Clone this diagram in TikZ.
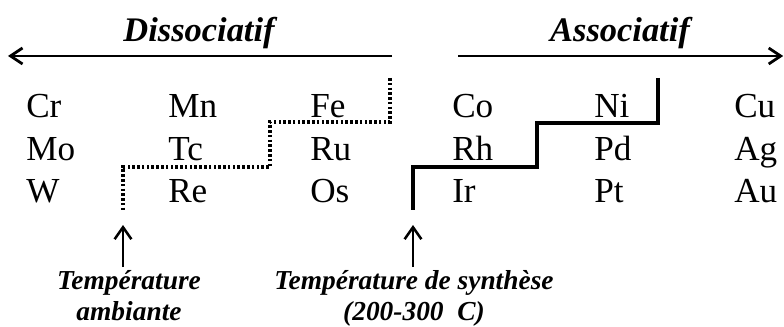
\documentclass[tikz,border=0pt]{standalone}
\usepackage{fontspec}
\setmainfont{Liberation Serif}
\usetikzlibrary{arrows.meta}

\begin{document}
\begin{tikzpicture}[
    % element symbols of the table
    elem/.style={anchor=base west, inner sep=0pt, font=\fontsize{25}{29}\selectfont},
    % titles above the long arrows
    title/.style={anchor=base, inner sep=0pt, font=\fontsize{24.5}{29}\selectfont\bfseries\itshape},
    % temperature labels under the table
    templabel/.style={anchor=north, align=center, inner sep=0pt, font=\fontsize{19.5}{22}\selectfont\bfseries\itshape},
    % arrows and steps
    bigarrow/.style={line width=2pt, -{Straight Barb[length=0.3cm,width=0.4cm,line width=2pt]}},
    smallarrow/.style={line width=1.8pt, -{Straight Barb[length=0.3cm,width=0.42cm,line width=1.8pt]}},
    roomstep/.style={line width=2.2pt, dash pattern=on 1.8pt off 1.6pt},
    synthstep/.style={line width=2.8pt}
]
\useasboundingbox (0,0) rectangle (19.6,-8.175);

% Define the ends of the long arrows
\coordinate (DissStart) at (9.8,-1.4);
\coordinate (DissEnd) at (0.2,-1.4);
\coordinate (AssoStart) at (11.45,-1.4);
\coordinate (AssoEnd) at (19.58,-1.4);

% Draw the long arrows with their titles
\draw[bigarrow] (DissStart) -- (DissEnd);
\draw[bigarrow] (AssoStart) -- (AssoEnd);
\node[title] (diss) at (4.975,-1.05) {Dissociatif};
\node[title] (asso) at (15.5,-1.05) {Associatif};

% The elements, row by row
\node[elem] (Cr) at (0.65,-2.95) {Cr};
\node[elem] (Mn) at (4.2,-2.95) {Mn};
\node[elem] (Fe) at (7.75,-2.95) {Fe};
\node[elem] (Co) at (11.3,-2.95) {Co};
\node[elem] (Ni) at (14.85,-2.95) {Ni};
\node[elem] (Cu) at (18.35,-2.95) {Cu};

\node[elem] (Mo) at (0.65,-4.025) {Mo};
\node[elem] (Tc) at (4.2,-4.025) {Tc};
\node[elem] (Ru) at (7.75,-4.025) {Ru};
\node[elem] (Rh) at (11.3,-4.025) {Rh};
\node[elem] (Pd) at (14.85,-4.025) {Pd};
\node[elem] (Ag) at (18.35,-4.025) {Ag};

\node[elem] (W) at (0.65,-5.075) {W};
\node[elem] (Re) at (4.2,-5.075) {Re};
\node[elem] (Os) at (7.75,-5.075) {Os};
\node[elem] (Ir) at (11.3,-5.075) {Ir};
\node[elem] (Pt) at (14.85,-5.075) {Pt};
\node[elem] (Au) at (18.35,-5.075) {Au};

% Dotted step (room temperature)
\coordinate (R1) at (9.75,-1.95);
\coordinate (R2) at (9.75,-3.05);
\coordinate (R3) at (6.75,-3.05);
\coordinate (R4) at (6.75,-4.175);
\coordinate (R5) at (3.075,-4.175);
\coordinate (R6) at (3.075,-5.25);
\draw[roomstep] (R1) -- (R2) -- (R3) -- (R4) -- (R5) -- (R6);

% Solid step (synthesis temperature)
\coordinate (S1) at (16.45,-1.95);
\coordinate (S2) at (16.45,-3.075);
\coordinate (S3) at (13.425,-3.075);
\coordinate (S4) at (13.425,-4.175);
\coordinate (S5) at (10.325,-4.175);
\coordinate (S6) at (10.325,-5.25);
\draw[synthstep] (S1) -- (S2) -- (S3) -- (S4) -- (S5) -- (S6);

% Labels and their small arrows
\coordinate (ambtip) at (3.075,-5.625);
\coordinate (ambtail) at (3.075,-6.675);
\coordinate (syntip) at (10.325,-5.625);
\coordinate (syntail) at (10.325,-6.675);
\draw[smallarrow] (ambtail) -- (ambtip);
\draw[smallarrow] (syntail) -- (syntip);
\node[templabel] (amb) at (3.225,-6.76) {Température\\ambiante};
\node[templabel] (syn) at (10.35,-6.76) {Température de synthèse\\(200-300\enspace C)};

\end{tikzpicture}
\end{document}
